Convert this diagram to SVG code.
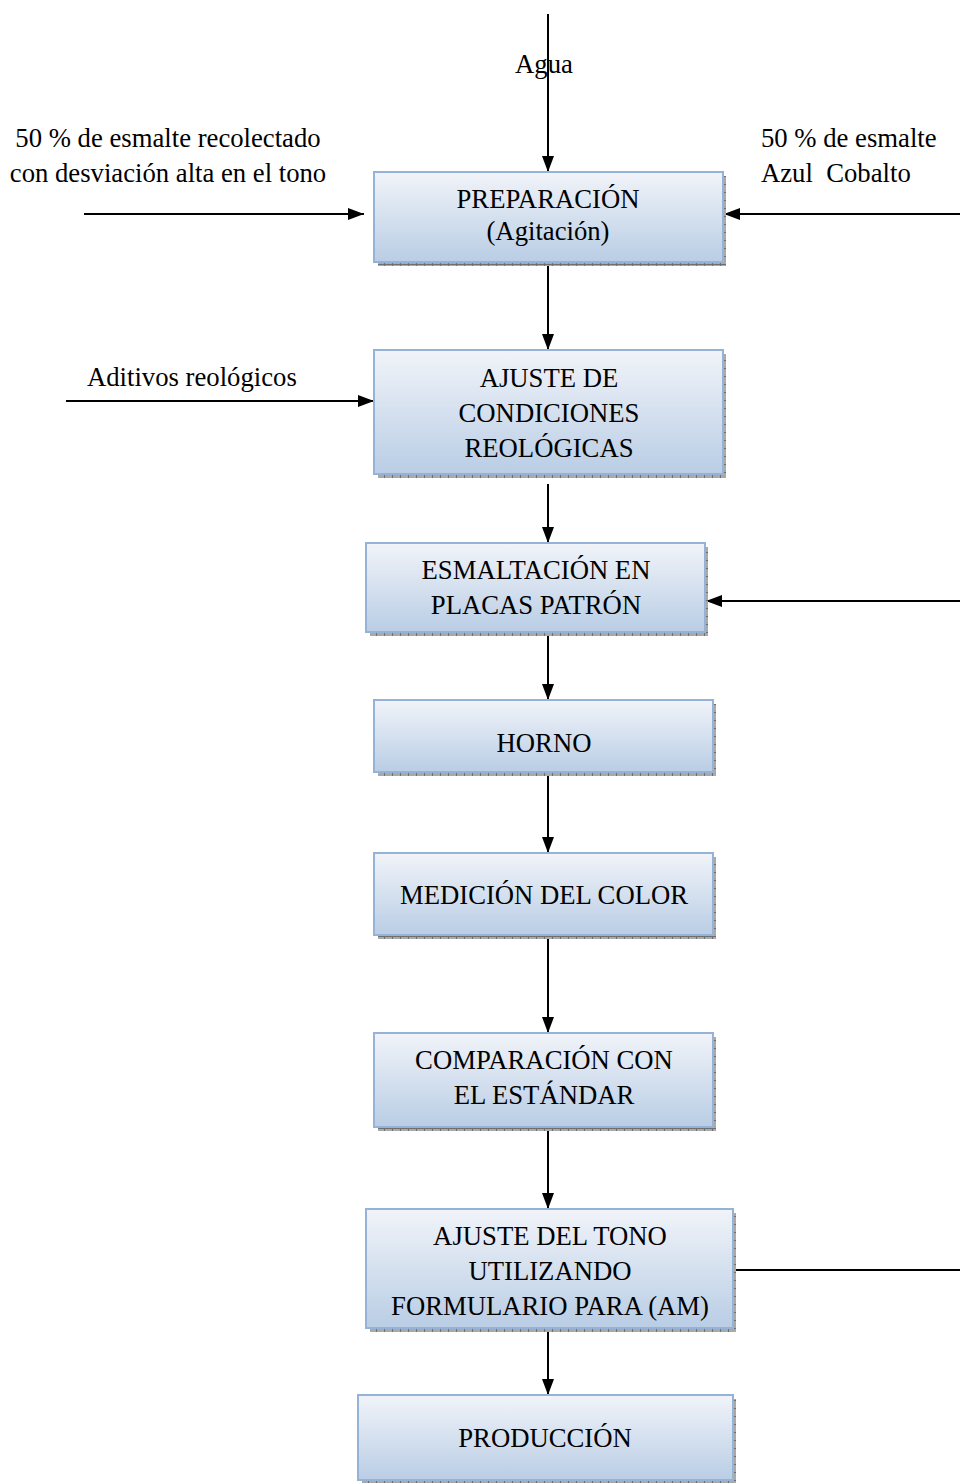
<svg xmlns="http://www.w3.org/2000/svg" width="960" height="1483" viewBox="0 0 960 1483">
  <style>
    text { font-family: "Liberation Serif", "Times New Roman", serif; font-size: 26.7px; fill: #000; }
    .c { text-anchor: middle; }
    .box { fill: url(#boxFill); stroke: #95b3d7; stroke-width: 2; }
    .shadow { fill: url(#shadowTex); }
    .wire { stroke: #000; stroke-width: 2; fill: none; }
    .arrow { marker-end: url(#head); }
  </style>
  <defs>
    <linearGradient id="boxFill" x1="0" y1="0" x2="0" y2="1">
      <stop offset="0" stop-color="#f1f4f9"/>
      <stop offset="1" stop-color="#b9cde5"/>
    </linearGradient>
    <pattern id="shadowTex" width="8" height="8" patternUnits="userSpaceOnUse">
      <rect width="8" height="8" fill="#a9a9a9"/>
      <rect x="0" y="0" width="1" height="8" fill="#6f6f6f"/>
      <rect x="0" y="0" width="8" height="1" fill="#6f6f6f"/>
    </pattern>
    <marker id="head" markerWidth="16" markerHeight="12" refX="16" refY="6" orient="auto" markerUnits="userSpaceOnUse">
      <path d="M0,0 L16,6 L0,12 Z" fill="#000"/>
    </marker>
  </defs>

  <!-- connectors -->
  <g id="connectors">
    <line class="wire arrow" x1="548" y1="14" x2="548" y2="172"/>
    <line class="wire arrow" x1="84" y1="214" x2="364" y2="214"/>
    <line class="wire arrow" x1="960" y1="214" x2="724" y2="214"/>
    <line class="wire arrow" x1="548" y1="262" x2="548" y2="350"/>
    <line class="wire arrow" x1="66" y1="401" x2="374" y2="401"/>
    <line class="wire arrow" x1="548" y1="484" x2="548" y2="543"/>
    <line class="wire arrow" x1="960" y1="601" x2="706" y2="601"/>
    <line class="wire arrow" x1="548" y1="632" x2="548" y2="700"/>
    <line class="wire arrow" x1="548" y1="772" x2="548" y2="853"/>
    <line class="wire arrow" x1="548" y1="935" x2="548" y2="1033"/>
    <line class="wire arrow" x1="548" y1="1127" x2="548" y2="1209"/>
    <line class="wire" x1="734" y1="1270" x2="960" y2="1270"/>
    <line class="wire arrow" x1="548" y1="1328" x2="548" y2="1395"/>
  </g>

  <!-- input labels -->
  <g id="labels">
    <text x="544" y="73" class="c">Agua</text>
    <text x="168" y="147" class="c">50 % de esmalte recolectado</text>
    <text x="168" y="182" class="c">con desviación alta en el tono</text>
    <text x="761" y="147">50 % de esmalte</text>
    <text x="761" y="182" xml:space="preserve">Azul  Cobalto</text>
    <text x="87" y="386">Aditivos reológicos</text>
  </g>

  <g id="preparacion">
    <rect class="shadow" x="378" y="176" width="348" height="90"/>
    <rect class="box" x="374" y="172" width="349" height="90"/>
    <text x="548" y="208" class="c">PREPARACIÓN</text>
    <text x="548" y="240" class="c">(Agitación)</text>
  </g>

  <g id="ajuste-condiciones">
    <rect class="shadow" x="378" y="354" width="348" height="124"/>
    <rect class="box" x="374" y="350" width="349" height="124"/>
    <text x="549" y="387" class="c">AJUSTE DE</text>
    <text x="549" y="422" class="c">CONDICIONES</text>
    <text x="549" y="457" class="c">REOLÓGICAS</text>
  </g>

  <g id="esmaltacion">
    <rect class="shadow" x="370" y="547" width="338" height="89"/>
    <rect class="box" x="366" y="543" width="339" height="89"/>
    <text x="536" y="579" class="c">ESMALTACIÓN EN</text>
    <text x="536" y="614" class="c">PLACAS PATRÓN</text>
  </g>

  <g id="horno">
    <rect class="shadow" x="378" y="704" width="338" height="72"/>
    <rect class="box" x="374" y="700" width="339" height="72"/>
    <text x="544" y="752" class="c">HORNO</text>
  </g>

  <g id="medicion">
    <rect class="shadow" x="378" y="857" width="338" height="82"/>
    <rect class="box" x="374" y="853" width="339" height="82"/>
    <text x="544" y="904" class="c">MEDICIÓN DEL COLOR</text>
  </g>

  <g id="comparacion">
    <rect class="shadow" x="378" y="1037" width="338" height="94"/>
    <rect class="box" x="374" y="1033" width="339" height="94"/>
    <text x="544" y="1069" class="c">COMPARACIÓN CON</text>
    <text x="544" y="1104" class="c">EL ESTÁNDAR</text>
  </g>

  <g id="ajuste-tono">
    <rect class="shadow" x="370" y="1213" width="366" height="119"/>
    <rect class="box" x="366" y="1209" width="367" height="119"/>
    <text x="550" y="1245" class="c">AJUSTE DEL TONO</text>
    <text x="550" y="1280" class="c">UTILIZANDO</text>
    <text x="550" y="1315" class="c">FORMULARIO PARA (AM)</text>
  </g>

  <g id="produccion">
    <rect class="shadow" x="362" y="1399" width="374" height="84"/>
    <rect class="box" x="358" y="1395" width="375" height="85"/>
    <text x="545" y="1447" class="c">PRODUCCIÓN</text>
  </g>
</svg>
